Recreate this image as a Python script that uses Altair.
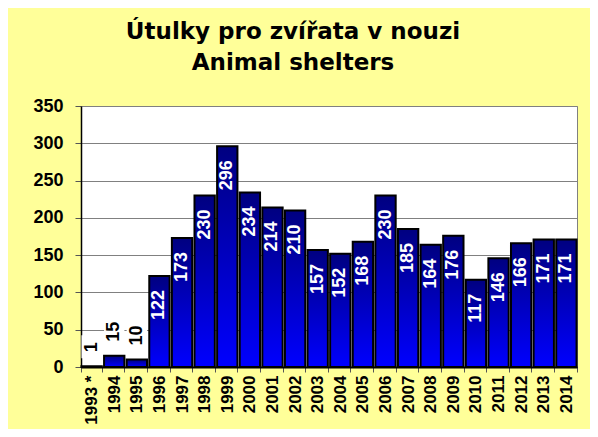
import altair as alt
import pandas as pd

years = ["1993 *", "1994", "1995", "1996", "1997", "1998", "1999", "2000", "2001", "2002",
         "2003", "2004", "2005", "2006", "2007", "2008", "2009", "2010", "2011", "2012",
         "2013", "2014"]
values = [1, 15, 10, 122, 173, 230, 296, 234, 214, 210, 157, 152, 168, 230, 185, 164,
          176, 117, 146, 166, 171, 171]
y_ticks = [0, 50, 100, 150, 200, 250, 300, 350]

df = pd.DataFrame({"year": years, "value": values})

FONT = "Liberation Sans"
TFONT = "DejaVu Sans"

x = alt.X("year:N", sort=years, title=None,
          scale=alt.Scale(paddingInner=0.1, paddingOuter=0.02),
          axis=alt.Axis(labelAngle=270, labelFont=FONT, labelFontSize=17,
                        labelFontWeight="bold", labelColor="black", labelPadding=3,
                        labelOverlap=False,
                        tickBand="extent", tickColor="#555555", tickSize=5,
                        domainColor="black", domainWidth=2))
y = alt.Y("value:Q", title=None,
          scale=alt.Scale(domain=[0, 350], nice=False),
          axis=alt.Axis(values=y_ticks, labelFont=FONT, labelFontSize=18,
                        labelFontWeight="bold", labelColor="black", labelPadding=12,
                        labelOverlap=False, labelBound=False,
                        gridColor="#808080", gridWidth=1, tickColor="#555555",
                        tickSize=6, domainColor="black", domainWidth=1.5))

base = alt.Chart(df).encode(x=x, y=y)

grad = alt.Gradient(gradient="linear", x1=0, y1=0, x2=0, y2=1,
                    stops=[alt.GradientStop(color="#000080", offset=0),
                           alt.GradientStop(color="#0000FF", offset=1)])

bars = base.mark_bar(color=grad, stroke="black", strokeWidth=2)

box1 = base.transform_filter("datum.value < 10").mark_rect(
    fill="white", yOffset=-8, y2Offset=-31).encode(y2="value:Q")
box2 = base.transform_filter("datum.value >= 10 && datum.value < 50").mark_rect(
    fill="white", yOffset=-4, y2Offset=-40).encode(y2="value:Q")

inside = base.transform_filter("datum.value >= 50").mark_text(
    angle=270, align="right", baseline="middle", dx=-14, color="white",
    font=FONT, fontSize=18, fontWeight="bold").encode(text="value:Q")

outside = base.transform_filter("datum.value < 50").mark_text(
    angle=270, align="left", baseline="middle", dx=14, color="black",
    font=FONT, fontSize=18, fontWeight="bold").encode(text="value:Q")

chart = alt.layer(bars, box1, box2, inside, outside).properties(
    width=496, height=261,
    autosize=alt.AutoSizeParams(type="none"),
    padding={"left": 73, "top": 98, "right": 13, "bottom": 62},
    background="#FFFF99",
    title=alt.TitleParams(text=["Útulky pro zvířata v nouzi", "Animal shelters"],
                          font=TFONT, fontSize=23, fontWeight="bold", color="black",
                          anchor="middle", dx=-36, offset=22, lineHeight=31),
).configure_view(fill="white", stroke="#808080", strokeWidth=1)

chart.save("out.html", embed_options={"renderer": "svg", "actions": False})
